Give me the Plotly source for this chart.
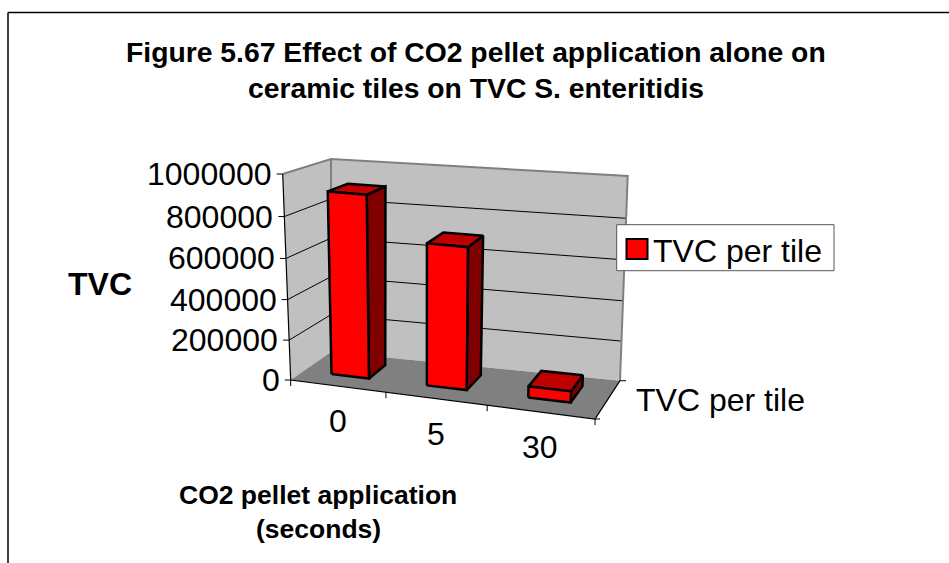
import plotly.graph_objects as go

# ---- data ----
categories = ["0", "5", "30"]
tvc_per_tile = [905000, 700000, 55000]
value_ticks = [0, 200000, 400000, 600000, 800000, 1000000]
series_name = "TVC per tile"
title_lines = ["Figure 5.67 Effect of CO2 pellet application alone on",
               "ceramic tiles on TVC S. enteritidis"]
y_title = "TVC"
x_title_lines = ["CO2 pellet application", "(seconds)"]

# ---- oblique view of the chart box (screen pixels of the eight box corners) ----
C000, C100, C001, C101 = (290.7, 380), (595, 419), (331, 352), (620, 380.7)
C010, C110, C011, C111 = (282.7, 174), (603, 205), (331, 159), (627.7, 176)
VMAX = 1000000
PERSP_U, PERSP_V = 0.911, 0.96
GAP = 1.5
W_FRONT, W_BACK = 0.33, 0.77
FONT = "Liberation Sans, Arial, sans-serif"


def persp(t, k):
    return k * t / (1 + (k - 1) * t)


def project(u, value, w):
    """u: 0..1 along the category axis, value in data units, w: 0..1 in depth."""
    a, b, c = persp(u, PERSP_U), persp(value / VMAX, PERSP_V), w
    out = []
    for i in (0, 1):
        bottom = ((1 - a) * (1 - c) * C000[i] + a * (1 - c) * C100[i]
                  + (1 - a) * c * C001[i] + a * c * C101[i])
        top = ((1 - a) * (1 - c) * C010[i] + a * (1 - c) * C110[i]
               + (1 - a) * c * C011[i] + a * c * C111[i])
        out.append(bottom + (top - bottom) * b)
    return out


fig = go.Figure()


def poly(points, fill=None, line="black", width=1.0):
    xs = [p[0] for p in points]
    ys = [p[1] for p in points]
    kw = {}
    if fill:
        xs.append(xs[0])
        ys.append(ys[0])
        kw = dict(fill="toself", fillcolor=fill)
    fig.add_trace(go.Scatter(x=xs, y=ys, mode="lines", hoverinfo="skip", showlegend=False,
                             line=dict(color=line if width else "rgba(0,0,0,0)", width=width), **kw))


# walls and floor
poly([project(0, 0, 0), project(0, VMAX, 0), project(0, VMAX, 1), project(0, 0, 1)], "#C0C0C0", "#C0C0C0", 0)
poly([project(0, 0, 1), project(0, VMAX, 1), project(1, VMAX, 1), project(1, 0, 1)], "#C0C0C0", "#C0C0C0", 0)
# gridlines
for v in value_ticks[1:-1]:
    poly([project(0, v, 0), project(0, v, 1), project(1, v, 1)], None, "black", 1)
poly([project(0, 0, 0), project(1, 0, 0), project(1, 0, 1), project(0, 0, 1)], "#808080", "#808080", 0)
# wall edges
poly([project(0, VMAX, 0), project(0, VMAX, 1), project(1, VMAX, 1), project(1, 0, 1)], None, "#808080", 2)
poly([project(0, VMAX, 1), project(0, 0, 1)], None, "#808080", 2)
# axes
poly([project(0, VMAX, 0), project(0, 0, 0), project(1, 0, 0), project(1, 0, 1)], None, "black", 1.2)
# ticks
for v in value_ticks:
    p = project(0, v, 0)
    poly([p, (p[0] - 6, p[1])], None, "black", 1)
n = len(categories)
for i in range(n + 1):
    p = project(i / n, 0, 0)
    poly([p, (p[0], p[1] + 6)], None, "black", 1)
p = project(1, 0, 0)
poly([p, (p[0] + 5, p[1])], None, "black", 1)
p = project(1, 0, 1)
poly([p, (p[0] + 6, p[1])], None, "black", 1)

# bars
bar_w = (1 / n) / (1 + GAP)
for i, val in enumerate(tvc_per_tile):
    c = (i + 0.5) / n
    u0, u1 = c - bar_w / 2, c + bar_w / 2
    poly([project(u1, 0, W_FRONT), project(u1, val, W_FRONT), project(u1, val, W_BACK), project(u1, 0, W_BACK)],
         "#800000", "black", 2.5)
    poly([project(u0, val, W_FRONT), project(u1, val, W_FRONT), project(u1, val, W_BACK), project(u0, val, W_BACK)],
         "#C00000", "black", 2.5)
    poly([project(u0, 0, W_FRONT), project(u1, 0, W_FRONT), project(u1, val, W_FRONT), project(u0, val, W_FRONT)],
         "#FF0000", "black", 2.5)


def label(x, y, text, size, bold=False, anchor="center"):
    fig.add_annotation(x=x, y=y, text=f"<b>{text}</b>" if bold else text, showarrow=False,
                       xanchor=anchor, yanchor="middle", xshift=0,
                       font=dict(family=FONT, size=size, color="black"))


TICK_SIZE = 32
for v in value_ticks:
    p = project(0, v, 0)
    label(p[0] - 9, p[1], str(v), TICK_SIZE, anchor="right")
for i, cat in enumerate(categories):
    p = project((i + 0.5) / n, 0, 0)
    label(p[0], p[1] + 35, cat, TICK_SIZE)
label(634, 400, series_name, TICK_SIZE, anchor="left")

label(476, 52, title_lines[0], 28.3, True)
label(476, 88, title_lines[1], 28.3, True)
label(100, 284, y_title, 32, True)
label(318, 495, x_title_lines[0], 26.5, True)
label(318, 529, x_title_lines[1], 26.5, True)

# legend
fig.add_shape(type="rect", x0=616.7, x1=834, y0=224.7, y1=270.7, fillcolor="white",
              line=dict(color="#555555", width=1), layer="above")
fig.add_shape(type="rect", x0=626.5, x1=647.5, y0=239, y1=259, fillcolor="#FF0000",
              line=dict(color="black", width=2), layer="above")
label(651, 251, series_name, TICK_SIZE, anchor="left")

# frame of the chart area
fig.add_shape(type="line", x0=8, x1=949, y0=12.5, y1=12.5, line=dict(color="black", width=1.5))
fig.add_shape(type="line", x0=8, x1=8, y0=12.5, y1=563, line=dict(color="black", width=1.5))

fig.update_xaxes(range=[0, 949], visible=False, fixedrange=True)
fig.update_yaxes(range=[563, 0], visible=False, fixedrange=True)
fig.update_layout(width=949, height=563, margin=dict(l=0, r=0, t=0, b=0),
                  plot_bgcolor="white", paper_bgcolor="white", showlegend=False)
fig.write_html("out.html", config={"displayModeBar": False},
               post_script="document.body.style.margin='0';document.body.style.overflow='hidden';")
